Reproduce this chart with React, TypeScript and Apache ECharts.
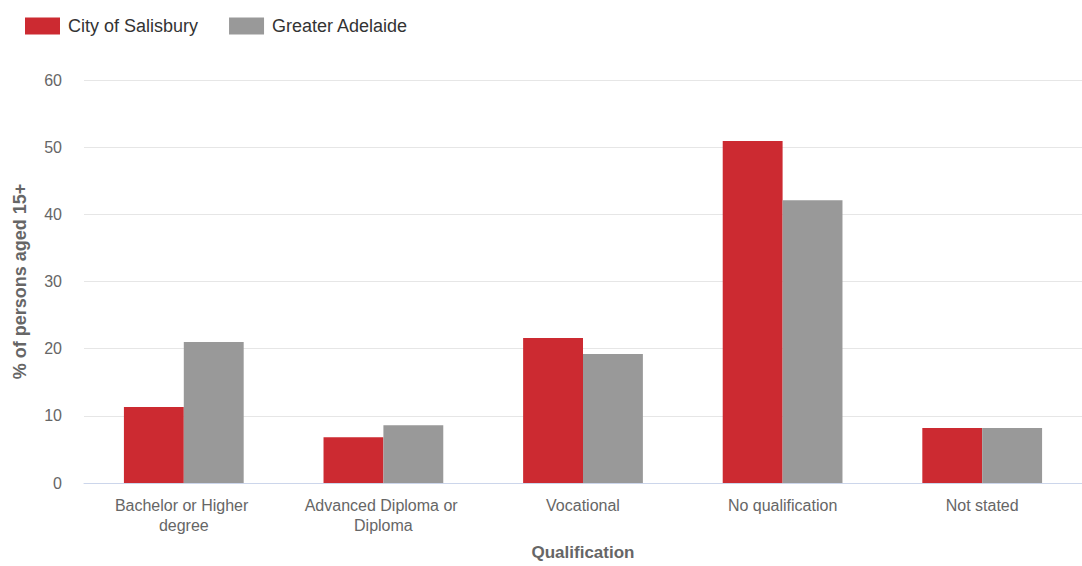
import React, { useEffect, useRef } from "react";
import * as echarts from "echarts";

const categories = [
  "Bachelor or Higher degree",
  "Advanced Diploma or Diploma",
  "Vocational",
  "No qualification",
  "Not stated",
];
const salisbury = [11.3, 6.8, 21.6, 50.9, 8.2];
const adelaide = [21.0, 8.6, 19.2, 42.1, 8.2];
const seriesNames = ["City of Salisbury", "Greater Adelaide"];

export default function App() {
  const ref = useRef<HTMLDivElement>(null);
  useEffect(() => {
    if (!ref.current) return;
    const chart = echarts.init(ref.current, null, { renderer: "svg" });
    const font = "'Liberation Sans', Arial, sans-serif";
    chart.setOption({
      animation: false,
      textStyle: { fontFamily: font },
      legend: {
        left: 20,
        top: 12,
        itemWidth: 35,
        itemHeight: 17,
        itemGap: 31,
        icon: "rect",
        textStyle: { fontSize: 18, color: "#333", fontFamily: font, padding: [0, 0, 0, 3] },
        data: seriesNames,
      },
      grid: { left: 84, right: 0, top: 80, bottom: 83, outerBoundsMode: "none", containLabel: false },
      xAxis: {
        type: "category",
        data: categories,
        name: "Qualification",
        nameLocation: "middle",
        nameGap: 61,
        nameTextStyle: { fontSize: 17, fontWeight: "bold", color: "#666", fontFamily: font },
        axisLine: { lineStyle: { color: "#ccd6eb" } },
        axisTick: { alignWithLabel: true, interval: 0, length: 10, lineStyle: { color: "#ccd6eb" } },
        axisLabel: {
          interval: 0,
          fontSize: 16,
          color: "#666",
          margin: 12,
          width: 175,
          overflow: "break",
          lineHeight: 20,
          fontFamily: font,
        },
      },
      yAxis: {
        type: "value",
        min: 0,
        max: 60,
        interval: 10,
        name: "% of persons aged 15+",
        nameLocation: "middle",
        nameGap: 55,
        nameTextStyle: { fontSize: 18, fontWeight: "bold", color: "#666", fontFamily: font },
        axisLabel: { fontSize: 16, color: "#666", margin: 22, fontFamily: font },
        splitLine: { lineStyle: { color: "#e6e6e6" } },
        axisLine: { show: false },
        axisTick: { show: false },
      },
      series: [
        {
          name: seriesNames[0],
          type: "bar",
          data: salisbury,
          itemStyle: { color: "#cc2a31" },
          barGap: "0%",
          barCategoryGap: "40%",
        },
        {
          name: seriesNames[1],
          type: "bar",
          data: adelaide,
          itemStyle: { color: "#999999" },
          barGap: "0%",
          barCategoryGap: "40%",
        },
      ],
    });
    return () => chart.dispose();
  }, []);
  return (
    <div
      ref={ref}
      style={{ position: "fixed", left: 0, top: 0, width: 1082, height: 566, background: "#fff" }}
    />
  );
}
